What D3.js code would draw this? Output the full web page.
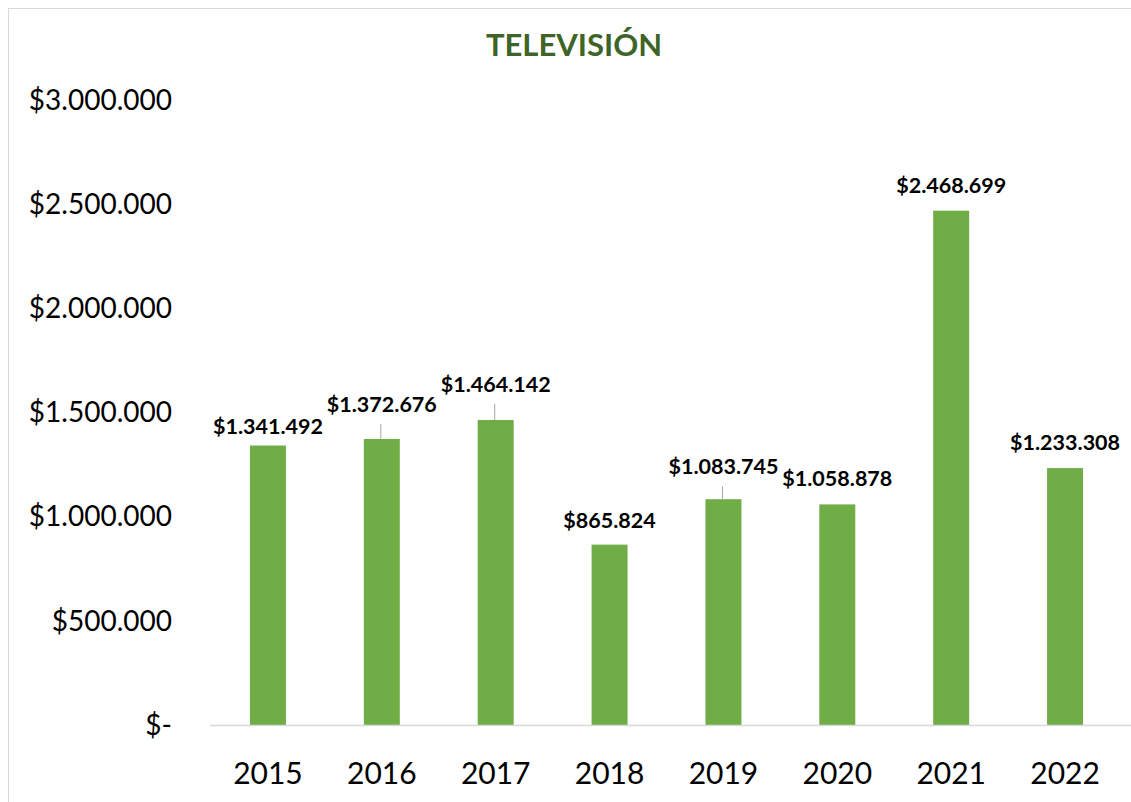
<!DOCTYPE html>
<html>
<head>
<meta charset="utf-8">
<script src="https://cdn.jsdelivr.net/npm/d3@7"></script>
<style>
  body { margin: 0; background: #fff; }
  svg { display: block; font-family: Lato, "Noto Sans", sans-serif; }
</style>
</head>
<body>
<svg id="chart"></svg>
<script>
// data
var years = ["2015", "2016", "2017", "2018", "2019", "2020", "2021", "2022"];
var values = [1341492, 1372676, 1464142, 865824, 1083745, 1058878, 2468699, 1233308];
var yTicks = [0, 500000, 1000000, 1500000, 2000000, 2500000, 3000000];

// label placement (Excel moved some labels, with leader lines)
var labelDy = [-12, -27, -28, -17, -25, -18, -18, -18];

var W = 1131, H = 802;
var svg = d3.select("#chart").attr("width", W).attr("height", H);

svg.append("rect")
    .attr("x", 8.5).attr("y", 8.5)
    .attr("width", W).attr("height", H)
    .attr("fill", "#fff")
    .attr("stroke", "#d9d9d9");

var x = d3.scaleBand()
    .domain(years)
    .range([211, 1122])
    .paddingInner(0.684)
    .paddingOuter(0.342);

var y = d3.scaleLinear()
    .domain([0, 3000000])
    .range([725, 100]);

function money(v) {
    if (v === 0) return "$-";
    return "$" + d3.format(",")(v).replace(/,/g, ".");
}

// title
svg.append("text")
    .attr("x", 574).attr("y", 56)
    .attr("text-anchor", "middle")
    .attr("font-size", 31)
    .attr("font-weight", "bold")
    .attr("fill", "#3f6427")
    .text("TELEVISIÓN");

// y axis labels (no line)
svg.append("g").selectAll("text")
    .data(yTicks)
    .enter().append("text")
    .attr("x", 172)
    .attr("y", function (d) { return y(d); })
    .attr("dy", "0.35em")
    .attr("text-anchor", "end")
    .attr("font-size", 28)
    .attr("fill", "#000")
    .text(money);

// bars
svg.append("g").selectAll("rect")
    .data(values)
    .enter().append("rect")
    .attr("x", function (d, i) { return x(years[i]); })
    .attr("y", function (d) { return y(d); })
    .attr("width", x.bandwidth())
    .attr("height", function (d) { return y(0) - y(d); })
    .attr("fill", "#70ad47");

// baseline
svg.append("line")
    .attr("x1", 210).attr("x2", W)
    .attr("y1", y(0) + 0.5).attr("y2", y(0) + 0.5)
    .attr("stroke", "#d9d9d9")
    .attr("stroke-width", 1.5);

// x axis labels
svg.append("g").selectAll("text")
    .data(years)
    .enter().append("text")
    .attr("x", function (d) { return x(d) + x.bandwidth() / 2; })
    .attr("y", 784)
    .attr("text-anchor", "middle")
    .attr("font-size", 30)
    .attr("fill", "#000")
    .text(function (d) { return d; });

// leader lines for labels lifted off the bar
var leaders = [1, 2, 4];
svg.append("g").selectAll("line")
    .data(leaders)
    .enter().append("line")
    .attr("x1", function (i) { return x(years[i]) + x.bandwidth() / 2 - 1; })
    .attr("x2", function (i) { return x(years[i]) + x.bandwidth() / 2 - 1; })
    .attr("y1", function (i) { return y(values[i]) + labelDy[i] + 12; })
    .attr("y2", function (i) { return y(values[i]); })
    .attr("stroke", "#a6a6a6")
    .attr("stroke-width", 1);

// value labels
svg.append("g").selectAll("text")
    .data(values)
    .enter().append("text")
    .attr("x", function (d, i) { return x(years[i]) + x.bandwidth() / 2; })
    .attr("y", function (d, i) { return y(d) + labelDy[i]; })
    .attr("text-anchor", "middle")
    .attr("font-size", 21.5)
    .attr("font-weight", "bold")
    .attr("fill", "#000")
    .text(money);
</script>
</body>
</html>
